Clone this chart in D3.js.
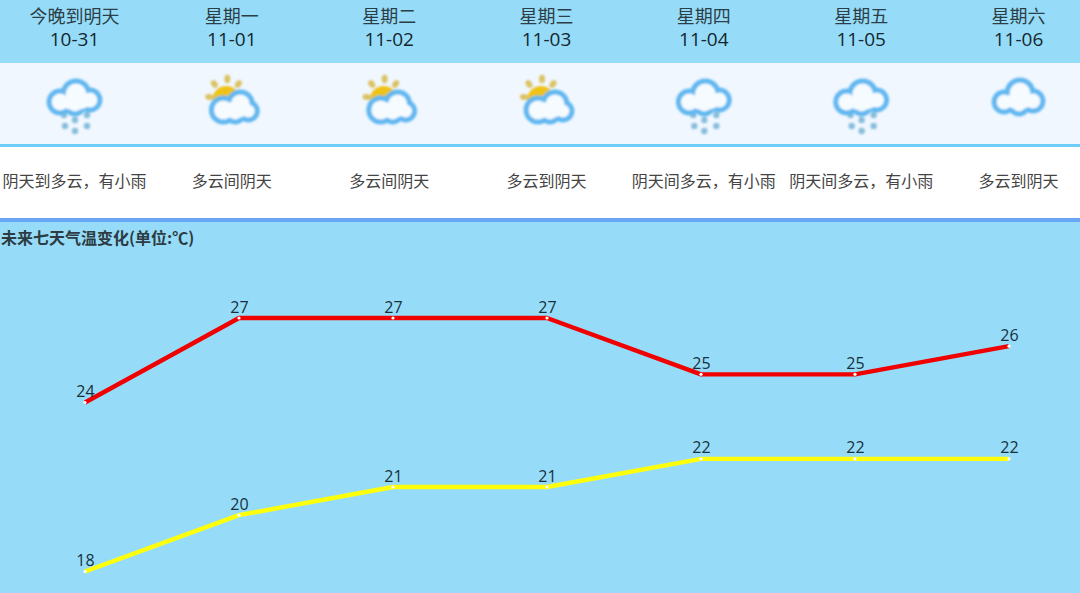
<!DOCTYPE html>
<html><head><meta charset="utf-8">
<style>html,body{margin:0;padding:0;background:#96dcf9}svg{display:block}</style>
<script src="https://cdn.jsdelivr.net/npm/d3@7"></script></head><body>
<script>
const dayNames=["今晚到明天","星期一","星期二","星期三","星期四","星期五","星期六"];
const dates=["10-31","11-01","11-02","11-03","11-04","11-05","11-06"];
const descriptions=["阴天到多云\uFF0C有小雨","多云间阴天","多云间阴天","多云到阴天","阴天间多云\uFF0C有小雨","阴天间多云\uFF0C有小雨","多云到阴天"];
const iconTypes=["rain","sun","sun","sun","rain","rain","cloud"];
const highs=[24,27,27,27,25,25,26];
const lows=[18,20,21,21,22,22,22];
const title="未来七天气温变化(单位:℃)";

const W=1080,H=593;
const cjk='"Noto Sans CJK SC","Noto Sans",sans-serif';
const latin='"Open Sans","Noto Sans CJK SC",sans-serif';
const svg=d3.select("body").append("svg").attr("width",W).attr("height",H);
const defs=svg.append("defs");
defs.append("filter").attr("id","soft").attr("x","-20%").attr("y","-20%").attr("width","140%").attr("height","140%")
  .append("feGaussianBlur").attr("stdDeviation",0.9);

svg.append("rect").attr("width",W).attr("height",H).attr("fill","#96dcf9");
svg.append("rect").attr("y",63).attr("width",W).attr("height",81).attr("fill","#f0f7ff");
svg.append("rect").attr("y",144).attr("width",W).attr("height",3).attr("fill","#6fcdf9");
svg.append("rect").attr("y",147).attr("width",W).attr("height",71).attr("fill","#ffffff");
svg.append("rect").attr("y",218).attr("width",W).attr("height",4).attr("fill","#69a6f5");

const colX=d3.scalePoint().domain(d3.range(7)).range([75,1019]);
const x=d3.scalePoint().domain(d3.range(7)).range([85,1009]);
const y=d3.scaleLinear().domain([18,27]).range([571.5,318]);

const header=svg.append("g").attr("text-anchor","middle");
header.selectAll("text.day").data(dayNames).join("text").attr("class","day")
  .attr("x",(d,i)=>colX(i)-0.5).attr("y",23).attr("font-family",cjk).attr("font-size",18).attr("fill","#2c3e46").text(d=>d);
header.selectAll("text.date").data(dates).join("text").attr("class","date")
  .attr("x",(d,i)=>colX(i)-0.5).attr("y",45.5).attr("font-family",latin).attr("font-size",19).attr("fill","#14262e").text(d=>d);
header.selectAll("text.desc").data(descriptions).join("text").attr("class","desc")
  .attr("x",(d,i)=>colX(i)-0.5).attr("y",187).attr("font-family",cjk).attr("font-size",16).attr("fill","#444").text(d=>d);

// Icons: a cloud is a union of circles, outline ring beneath a pale fill
const plainLobes=[[-15,4,10],[1,-5,13],[14,3,10],[0,7,9]];
const rainLobes=[[-15,3,11],[1,-5,13],[15,1,10],[0,6,9]];
const sunLobes=[[-11,3,12],[6,-3,12],[14,4,9],[1,6,9]];
const rainDots=[[-11,16],[0,21],[12,16],[-10,27],[0,32],[12,27]];
const sunRays=[[-25,-10],[-20,-23],[-7,-28],[4,-23]];
function cloud(g,lobes){
  g.selectAll("circle.o").data(lobes).join("circle").attr("class","o").attr("cx",d=>d[0]).attr("cy",d=>d[1])
    .attr("r",d=>d[2]+2.4).attr("fill","#62b8f0");
  g.selectAll("circle.i").data(lobes).join("circle").attr("class","i").attr("cx",d=>d[0]).attr("cy",d=>d[1])
    .attr("r",d=>d[2]-2.6).attr("fill","#f6fbff");
  g.append("ellipse").attr("cx",0).attr("cy",3).attr("rx",15).attr("ry",8).attr("fill","#f6fbff");
}
iconTypes.forEach((t,i)=>{
  const cx=colX(i);
  const g=svg.append("g").attr("filter","url(#soft)");
  if(t==="rain"){
    const gg=g.append("g").attr("transform",`translate(${cx},99)`);
    gg.selectAll("circle.d").data(rainDots).join("circle").attr("class","d")
      .attr("cx",d=>d[0]).attr("cy",d=>d[1]).attr("r",3.2).attr("fill","#88bddb");
    cloud(gg.append("g"),rainLobes);
  } else if(t==="sun"){
    const gg=g.append("g").attr("transform",`translate(${cx+2},107)`);
    gg.append("circle").attr("cx",-8).attr("cy",-7).attr("r",14).attr("fill","#efc318");
    gg.selectAll("ellipse").data(sunRays).join("ellipse")
      .attr("transform",d=>`translate(${d[0]},${d[1]}) rotate(${Math.atan2(d[1]+7,d[0]+8)*180/Math.PI+90})`)
      .attr("rx",3).attr("ry",4.2).attr("fill","#dcc263");
    cloud(gg.append("g"),sunLobes);
  } else {
    cloud(g.append("g").attr("transform",`translate(${cx},98)`),plainLobes);
  }
});

svg.append("text").attr("x",1).attr("y",243.5).attr("font-family",cjk).attr("font-weight",700)
  .attr("font-size",16).attr("fill","#2d3b42").text(title);

const line=d3.line().x((d,i)=>x(i)).y(d=>y(d));
[[highs,"#f10000"],[lows,"#ffff0a"]].forEach(([vals,col])=>{
  const g=svg.append("g");
  g.append("path").attr("d",line(vals)).attr("fill","none").attr("stroke",col).attr("stroke-width",4.4).attr("stroke-linejoin","round");
  g.selectAll("circle").data(vals).join("circle").attr("cx",(d,i)=>x(i)).attr("cy",d=>y(d)).attr("r",1.6).attr("fill","#fff");
  g.selectAll("text").data(vals).join("text").attr("x",(d,i)=>x(i)+0.5).attr("y",d=>y(d)-5.5)
    .attr("text-anchor","middle").attr("font-family",latin).attr("font-size",16).attr("fill","#16303a").text(d=>d);
});
</script></body></html>
